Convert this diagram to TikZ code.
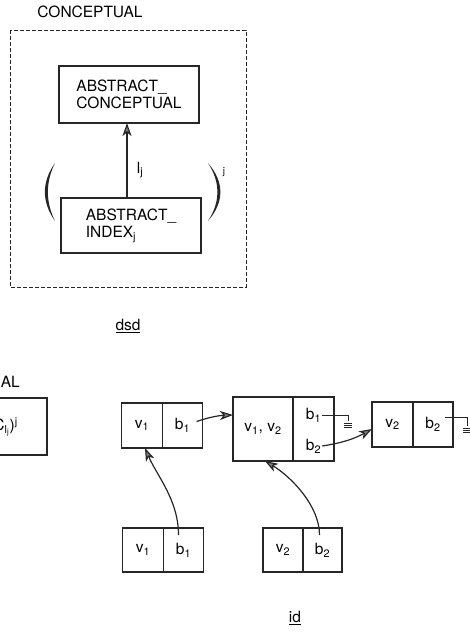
\documentclass[tikz,border=0pt]{standalone}
\usepackage{fontspec}
\setmainfont{TeX Gyre Heros}
\usetikzlibrary{arrows.meta,positioning}

\begin{document}
\begin{tikzpicture}[x=1pt,y=-1pt,
  font=\fontsize{15.5}{17.5}\selectfont,
  ln/.style={draw=black!85,line width=1.2pt},
  box/.style={ln,rectangle,minimum width=140pt,minimum height=57pt,align=left,inner sep=0pt,outer sep=0pt},
  cell/.style={ln,rectangle,minimum width=41pt,minimum height=45pt,inner sep=0pt,outer sep=0pt},
  lab/.style={inner sep=1pt},
  ptr/.style={ln,-{Stealth[length=13pt,width=9pt,inset=3.5pt,fill=black!50]}}]
  \useasboundingbox (0,0) rectangle (469,632);
  % upper part: conceptual frame
  \node[lab] (ttl) at (90,12) {CONCEPTUAL};
  \draw[ln,line width=.8pt,dash pattern=on 4pt off 2pt] (10,30) rectangle (246,287);
  \node[box] (abscon) at (129,94.5) {ABSTRACT\_\\CONCEPTUAL};
  \node[box,minimum height=55pt] (absidx) at (131,225.5) {ABSTRACT\_\\INDEX\textsubscript{j}};
  \draw[ptr] ([xshift=-4pt]absidx.north) -- ([xshift=-2pt]abscon.south);
  \node[lab] (lj) at (140,170) {l\textsubscript{j}};
  \fill[black!85] (55,163) .. controls (41.5,182) and (41.5,202) .. (55,221)
    .. controls (45.5,202) and (45.5,182) .. (55,163) -- cycle;
  \fill[black!85] (208,163) .. controls (224.5,182) and (224.5,202) .. (208,221)
    .. controls (220.5,202) and (220.5,182) .. (208,163) -- cycle;
  \node[lab,font=\fontsize{10}{12}\selectfont] (pj) at (224,172) {j};
  \node[lab] (dsd) at (128,326) {\underline{dsd}};
  % lower part, cut at the left edge
  \node[lab,anchor=east] (lttl) at (21,382) {CONCEPTUAL};
  \node[ln,rectangle,minimum width=110pt,minimum height=57pt,outer sep=0pt,anchor=east] (lbox) at (47,426.5) {};
  \node[lab,anchor=east] (lc) at (19,427) {(C\textsubscript{l\textsubscript{j}})\textsuperscript{j}};
  % index cells
  \node[cell] (av) at (142,425.5) {v\textsubscript{1}};
  \node[cell,right=0pt of av,minimum width=40pt] (ab) {b\textsubscript{1}};
  \node[cell,minimum width=60pt,minimum height=64pt] (bv) at (263,429) {v\textsubscript{1}, v\textsubscript{2}};
  \node[cell,right=0pt of bv,minimum height=64pt] (bb) {};
  \node[lab] (bb1) at ([yshift=14pt]bb.center) {b\textsubscript{1}};
  \node[lab] (bb2) at ([yshift=-17pt]bb.center) {b\textsubscript{2}};
  \node[cell] (cv) at (392.5,424.5) {v\textsubscript{2}};
  \node[cell,right=0pt of cv,minimum width=40pt] (cb) {b\textsubscript{2}};
  \node[cell,minimum height=44pt] (dv) at (143,550) {v\textsubscript{1}};
  \node[cell,right=0pt of dv,minimum height=44pt,minimum width=40pt] (db) {b\textsubscript{1}};
  \node[cell,minimum height=44pt,minimum width=40pt] (ev) at (283,550) {v\textsubscript{2}};
  \node[cell,right=0pt of ev,minimum height=44pt,minimum width=39pt] (eb) {b\textsubscript{2}};
  \node[lab] (id) at (295,618) {\underline{id}};
  % pointers and grounds
  \coordinate (g1) at (348,421);
  \coordinate (g2) at (467,426);
  \draw[ln,line width=1pt] (bb1.east) -| (g1);
  \draw[ln,line width=1pt] ([shift={(-8pt,7pt)}]cb.east) -| (g2);
  \foreach \g in {g1,g2}
    \foreach \k in {2,4,6}
      \draw[ln,line width=.9pt] ([shift={(-4pt,-\k pt)}]\g) -- ++(8,0);
  \draw[ptr] ([shift={(-6pt,4pt)}]ab.east) to[bend left=8] ([yshift=14pt]bv.west);
  \draw[ptr] (bb2.east) to[bend right=10] ([yshift=-4.5pt]cv.west);
  \draw[ptr] ([shift={(-5pt,15pt)}]db.center) .. controls +(0,-35) and +(12,28) .. ([xshift=3pt]av.south);
  \draw[ptr] ([shift={(-3pt,15pt)}]eb.center) .. controls +(0,-30) and +(25,15) .. ([xshift=2pt]bv.south);
\end{tikzpicture}
\end{document}
